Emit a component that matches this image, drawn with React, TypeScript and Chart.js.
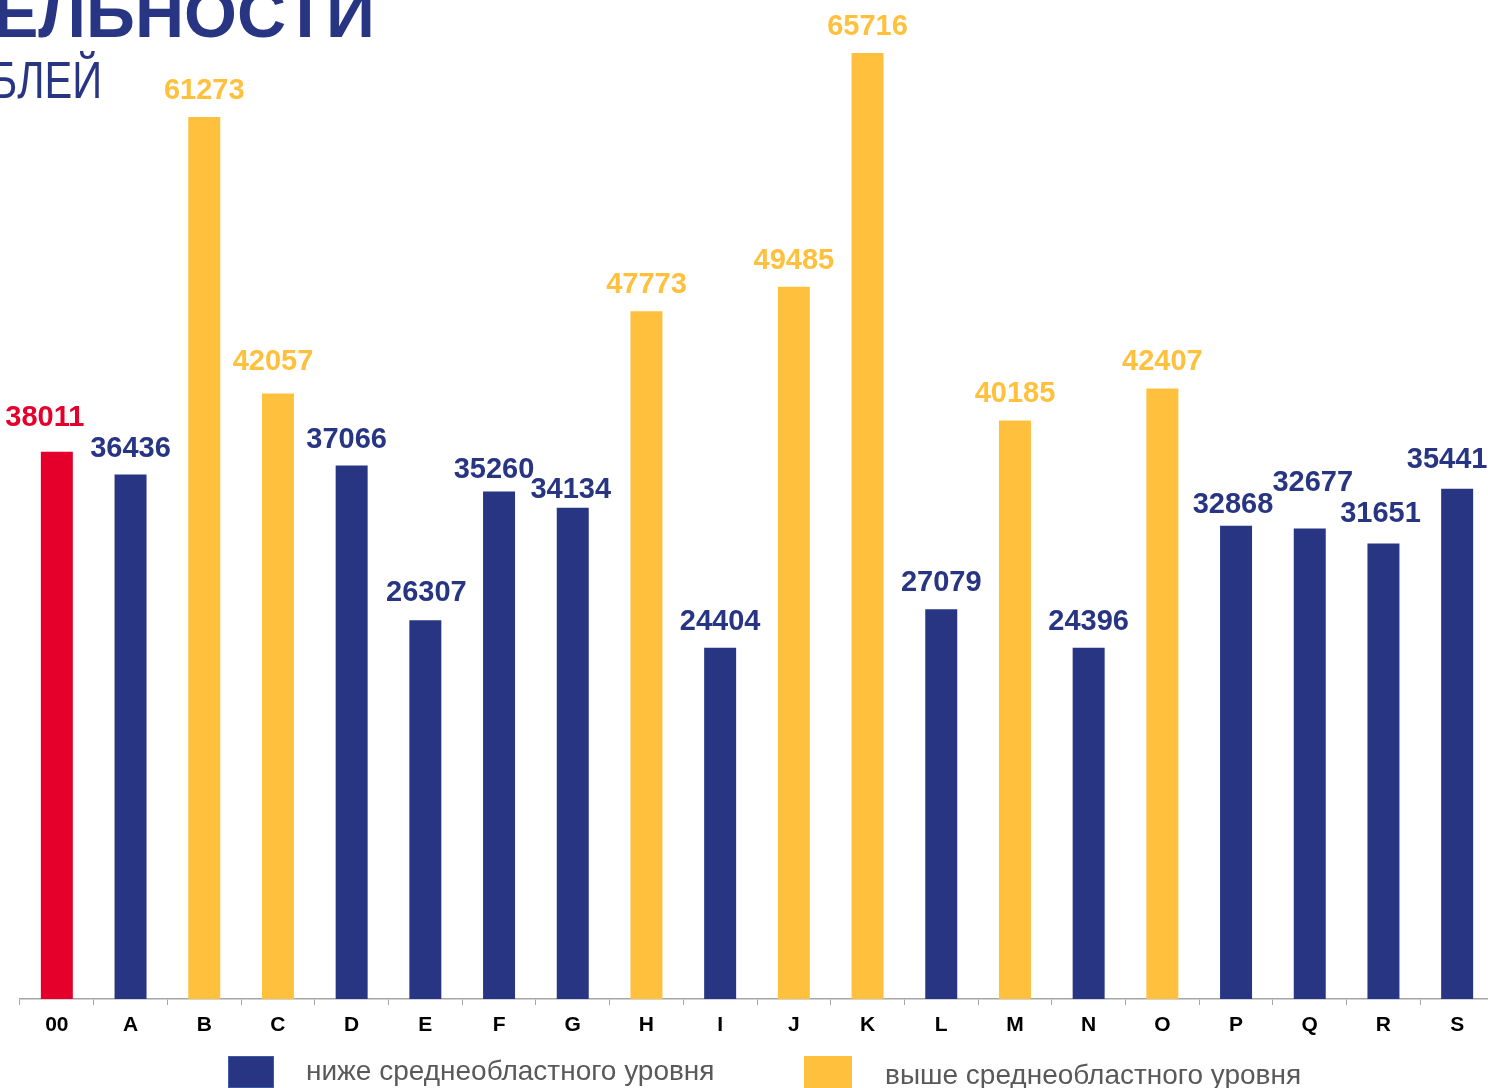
import React, { useEffect, useRef } from "react";
import { Chart, registerables } from "chart.js";

Chart.register(...registerables);

const categories = ["00", "A", "B", "C", "D", "E", "F", "G", "H", "I", "J", "K", "L", "M", "N", "O", "P", "Q", "R", "S"];
const values = [38011, 36436, 61273, 42057, 37066, 26307, 35260, 34134, 47773, 24404, 49485, 65716, 27079, 40185, 24396, 42407, 32868, 32677, 31651, 35441];
// group: 0 = region average, 1 = below, 2 = above
const groups = [0, 1, 2, 2, 1, 1, 1, 1, 2, 1, 2, 2, 1, 2, 1, 2, 1, 1, 1, 1];
const legendLabels = ["ниже среднеобластного уровня", "выше среднеобластного уровня"];

const RED = "#E4002B";
const NAVY = "#283583";
const YELLOW = "#FFC13D";
const groupColors = [RED, NAVY, YELLOW];

// label placement tweaks (px) relative to bar top-centre
const labelDx = [-12, 0, 0, -5, -5, 1, -5, -2, 0, 0, 0, 0, 0, 0, 0, 0, -3, 3, -3, -10];
const labelDy = [34, 26, 26, 32, 25, 27, 21, 18, 26, 26, 26, 26, 26, 27, 26, 27, 21, 46, 29, 29];

const FONT = "'Liberation Sans', Arial, sans-serif";

const labelPlugin = {
  id: "barLabels",
  afterDatasetsDraw(chart: any) {
    const ctx = chart.ctx;
    const meta = chart.getDatasetMeta(0);
    ctx.save();
    ctx.font = `bold 29px ${FONT}`;
    ctx.textAlign = "center";
    ctx.textBaseline = "middle";
    meta.data.forEach((bar: any, i: number) => {
      ctx.fillStyle = groupColors[groups[i]];
      ctx.fillText(String(values[i]), bar.x + labelDx[i], bar.y - labelDy[i]);
    });
    ctx.restore();
  },
};

export default function App() {
  const ref = useRef<HTMLCanvasElement>(null);
  useEffect(() => {
    document.body.style.margin = "0";
    document.body.style.overflow = "hidden";
    const chart = new Chart(ref.current!, {
      type: "bar",
      data: {
        labels: categories,
        datasets: [
          {
            data: values,
            backgroundColor: groups.map((g) => groupColors[g]),
            barPercentage: 0.434,
            categoryPercentage: 1,
          },
        ],
      },
      options: {
        animation: false,
        responsive: false,
        maintainAspectRatio: false,
        layout: { padding: { left: 20, right: 0, top: 0, bottom: 0 } },
        plugins: { legend: { display: false }, tooltip: { enabled: false } },
        scales: {
          y: { display: false, min: 0, max: 69400 },
          x: {
            afterFit: (scale: any) => {
              scale.height = 89;
            },
            border: { display: true, color: "#A6A6A6", width: 1.5 },
            grid: {
              display: true,
              drawOnChartArea: false,
              drawTicks: true,
              tickLength: 6,
              color: "#A6A6A6",
              offset: true,
            },
            ticks: {
              color: "#000000",
              font: { family: FONT, size: 21, weight: "bold" },
              padding: 8,
              maxRotation: 0,
              autoSkip: false,
            },
          },
        },
      },
      plugins: [labelPlugin],
    });
    return () => chart.destroy();
  }, []);

  return (
    <div style={{ position: "absolute", left: 0, top: 0, width: 1488, height: 1088, overflow: "hidden", background: "#fff", fontFamily: FONT }}>
      <canvas ref={ref} width={1494} height={1088} style={{ position: "absolute", left: 0, top: 0, width: 1494, height: 1088 }} />
      <div style={{ position: "absolute", left: -7, top: -21, fontSize: 68, fontWeight: "bold", color: NAVY, whiteSpace: "nowrap", lineHeight: "68px" }}>
        ЕЛЬНОСТИ
      </div>
      <div style={{ position: "absolute", left: -10, top: 54, fontSize: 52, color: NAVY, whiteSpace: "nowrap", lineHeight: "52px", transform: "scaleX(0.8)", transformOrigin: "left top" }}>
        БЛЕЙ
      </div>
      <div style={{ position: "absolute", left: 228, top: 1056, width: 46, height: 32, background: NAVY, border: "1px solid #3E5BA6", boxSizing: "border-box" }} />
      <div style={{ position: "absolute", left: 306, top: 1055, fontSize: 28, color: "#595959", whiteSpace: "nowrap", lineHeight: "32px" }}>
        {legendLabels[0]}
      </div>
      <div style={{ position: "absolute", left: 804, top: 1056, width: 48, height: 32, background: YELLOW }} />
      <div style={{ position: "absolute", left: 885, top: 1059, fontSize: 28, color: "#595959", whiteSpace: "nowrap", lineHeight: "32px" }}>
        {legendLabels[1]}
      </div>
    </div>
  );
}
